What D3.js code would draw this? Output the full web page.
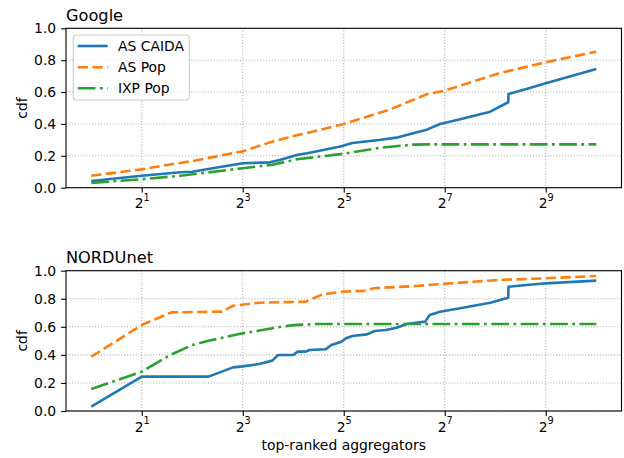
<!DOCTYPE html>
<html>
<head>
<meta charset="utf-8">
<script src="https://cdn.jsdelivr.net/npm/d3@7"></script>
<style>
  html, body { margin: 0; padding: 0; background: #fff; }
  svg { display: block; font-family: "DejaVu Sans", sans-serif; }
</style>
</head>
<body>
<svg id="chart" width="624" height="458"></svg>
<script>
// ---------- data ----------
const seriesNames = ["AS CAIDA", "AS Pop", "IXP Pop"];
const panelTitles = ["Google", "NORDUnet"];
const xTickValues = [2, 8, 32, 128, 512];
const xTickExponents = ["1", "3", "5", "7", "9"];
const yTickValues = [0.0, 0.2, 0.4, 0.6, 0.8, 1.0];

// Google
const googleCaidaRank = [1, 2, 3.4, 4, 5.3, 8, 11.6, 13.3, 16.8, 19.3, 23, 30, 32, 36, 52, 66, 83, 100, 120, 158, 239, 306, 307, 393, 512, 1024];
const googleCaidaCdf  = [0.042, 0.075, 0.097, 0.100, 0.122, 0.153, 0.159, 0.174, 0.205, 0.216, 0.232, 0.257, 0.264, 0.280, 0.299, 0.314, 0.341, 0.364, 0.400, 0.429, 0.477, 0.536, 0.588, 0.619, 0.655, 0.745];
const googleAsPopRank = [1, 2, 3, 4, 6, 8, 12, 17, 22, 32, 60, 100, 128, 270, 512, 1024];
const googleAsPopCdf  = [0.075, 0.115, 0.147, 0.167, 0.203, 0.228, 0.289, 0.330, 0.357, 0.400, 0.490, 0.586, 0.609, 0.718, 0.787, 0.853];
const googleIxpRank = [1, 2, 3.4, 8, 12, 16.8, 32, 53, 83, 100, 1024];
const googleIxpCdf  = [0.030, 0.053, 0.075, 0.122, 0.144, 0.178, 0.213, 0.251, 0.270, 0.272, 0.272];

// NORDUnet
const nordCaidaRank = [1, 2, 5, 7, 8, 10, 12, 13, 16, 17, 19, 20, 25, 27, 31, 33, 36, 44, 49, 57, 66, 76, 98, 104, 120, 158, 239, 306, 307, 393, 512, 1024];
const nordCaidaCdf  = [0.031, 0.245, 0.245, 0.311, 0.318, 0.335, 0.359, 0.399, 0.399, 0.423, 0.423, 0.435, 0.440, 0.470, 0.494, 0.518, 0.535, 0.546, 0.570, 0.577, 0.594, 0.620, 0.637, 0.684, 0.707, 0.732, 0.772, 0.808, 0.886, 0.898, 0.910, 0.929];
const nordAsPopRank = [1, 2, 3, 6, 7, 9, 10, 19, 24, 32, 44, 48, 87, 128, 158, 270, 512, 1024];
const nordAsPopCdf  = [0.387, 0.613, 0.703, 0.708, 0.750, 0.765, 0.772, 0.779, 0.832, 0.851, 0.858, 0.875, 0.891, 0.907, 0.915, 0.934, 0.946, 0.962];
const nordIxpRank = [1, 2, 3, 4, 5, 8, 13, 16, 22, 1024];
const nordIxpCdf  = [0.157, 0.280, 0.403, 0.470, 0.500, 0.554, 0.597, 0.612, 0.620, 0.620];

// ---------- styling ----------
const colors = ["#1f77b4", "#ff7f0e", "#2ca02c"];
const dashes = [null, "10.3,4.4", "17.8,4.4,2.8,4.4"];
const lw = 2.6;
const fs = 13.9;

const svg = d3.select("#chart");
const axLeft = 66, axRight = 621.5;

const x = d3.scaleLog().base(2).domain([Math.pow(2, -0.5), Math.pow(2, 10.5)]).range([axLeft, axRight]);

const panels = [
  { title: panelTitles[0], top: 28.3, bottom: 187.7, legend: true,
    series: [[googleCaidaRank, googleCaidaCdf], [googleAsPopRank, googleAsPopCdf], [googleIxpRank, googleIxpCdf]] },
  { title: panelTitles[1], top: 270.7, bottom: 411, legend: false, xlabel: "top-ranked aggregators",
    series: [[nordCaidaRank, nordCaidaCdf], [nordAsPopRank, nordAsPopCdf], [nordIxpRank, nordIxpCdf]] }
];

panels.forEach(p => {
  const y = d3.scaleLinear().domain([0, 1]).range([p.bottom, p.top]);
  const g = svg.append("g");

  // grid
  g.append("g").selectAll("line.gx").data(xTickValues).join("line")
    .attr("x1", d => x(d)).attr("x2", d => x(d))
    .attr("y1", p.top).attr("y2", p.bottom)
    .attr("stroke", "#b0b0b0").attr("stroke-width", 1.1).attr("stroke-dasharray", "1.1,1.8");
  g.append("g").selectAll("line.gy").data(yTickValues).join("line")
    .attr("x1", axLeft).attr("x2", axRight)
    .attr("y1", d => y(d)).attr("y2", d => y(d))
    .attr("stroke", "#b0b0b0").attr("stroke-width", 1.1).attr("stroke-dasharray", "1.1,1.8");

  // lines
  const line = d3.line().x(d => x(d[0])).y(d => y(d[1]));
  p.series.forEach((s, i) => {
    const pts = s[0].map((r, k) => [r, s[1][k]]);
    g.append("path").datum(pts)
      .attr("d", line)
      .attr("fill", "none")
      .attr("stroke", colors[i])
      .attr("stroke-width", lw)
      .attr("stroke-linejoin", "round")
      .attr("stroke-dasharray", dashes[i]);
  });

  // frame
  g.append("rect").attr("x", axLeft).attr("y", p.top)
    .attr("width", axRight - axLeft).attr("height", p.bottom - p.top)
    .attr("fill", "none").attr("stroke", "#000").attr("stroke-width", 1.1);

  // y axis
  const ya = g.append("g").attr("transform", `translate(${axLeft},0)`)
    .call(d3.axisLeft(y).tickValues(yTickValues).tickFormat(d3.format(".1f")).tickSize(4.9).tickPadding(4.9));
  ya.select(".domain").remove();
  ya.selectAll(".tick line").attr("stroke", "#000").attr("stroke-width", 1.1);
  ya.selectAll(".tick text").attr("font-size", fs).attr("font-family", "DejaVu Sans").attr("fill", "#000");

  // x axis
  const xa = g.append("g").attr("transform", `translate(0,${p.bottom})`)
    .call(d3.axisBottom(x).tickValues(xTickValues).tickFormat(() => "").tickSize(4.9));
  xa.select(".domain").remove();
  xa.selectAll(".tick line").attr("stroke", "#000").attr("stroke-width", 1.1);
  xa.selectAll(".tick text").each(function(d, i) {
    const t = d3.select(this);
    t.text(null).attr("y", 20.6).attr("dy", 0).attr("font-size", fs)
      .attr("font-family", "DejaVu Sans").attr("fill", "#000").attr("text-anchor", "middle");
    t.append("tspan").text("2");
    t.append("tspan").attr("dy", -7.3).attr("font-size", 9.7).text(xTickExponents[i]);
  });

  // title
  g.append("text").attr("x", axLeft).attr("y", p.top - 7.8)
    .attr("font-size", 16.2).attr("fill", "#000").text(p.title);

  // y label
  g.append("text")
    .attr("transform", `translate(26.5,${(p.top + p.bottom) / 2}) rotate(-90)`)
    .attr("text-anchor", "middle").attr("font-size", fs).attr("fill", "#000").text("cdf");

  if (p.xlabel) {
    g.append("text").attr("x", (axLeft + axRight) / 2).attr("y", 449.5)
      .attr("text-anchor", "middle").attr("font-size", fs).attr("fill", "#000").text(p.xlabel);
  }

  if (p.legend) {
    const lg = g.append("g");
    lg.append("rect").attr("x", 73.3).attr("y", 35).attr("width", 116).attr("height", 65)
      .attr("rx", 3).attr("fill", "#fff").attr("fill-opacity", 0.8)
      .attr("stroke", "#cccccc").attr("stroke-width", 1.1);
    const ys = [46, 67.3, 88.3];
    seriesNames.forEach((nm, i) => {
      lg.append("line").attr("x1", 77.7).attr("x2", 107.7).attr("y1", ys[i]).attr("y2", ys[i])
        .attr("stroke", colors[i]).attr("stroke-width", lw).attr("stroke-dasharray", dashes[i]);
      lg.append("text").attr("x", 118).attr("y", ys[i]).attr("dy", "0.36em")
        .attr("font-size", fs).attr("fill", "#000").text(nm);
    });
  }
});
</script>
</body>
</html>
